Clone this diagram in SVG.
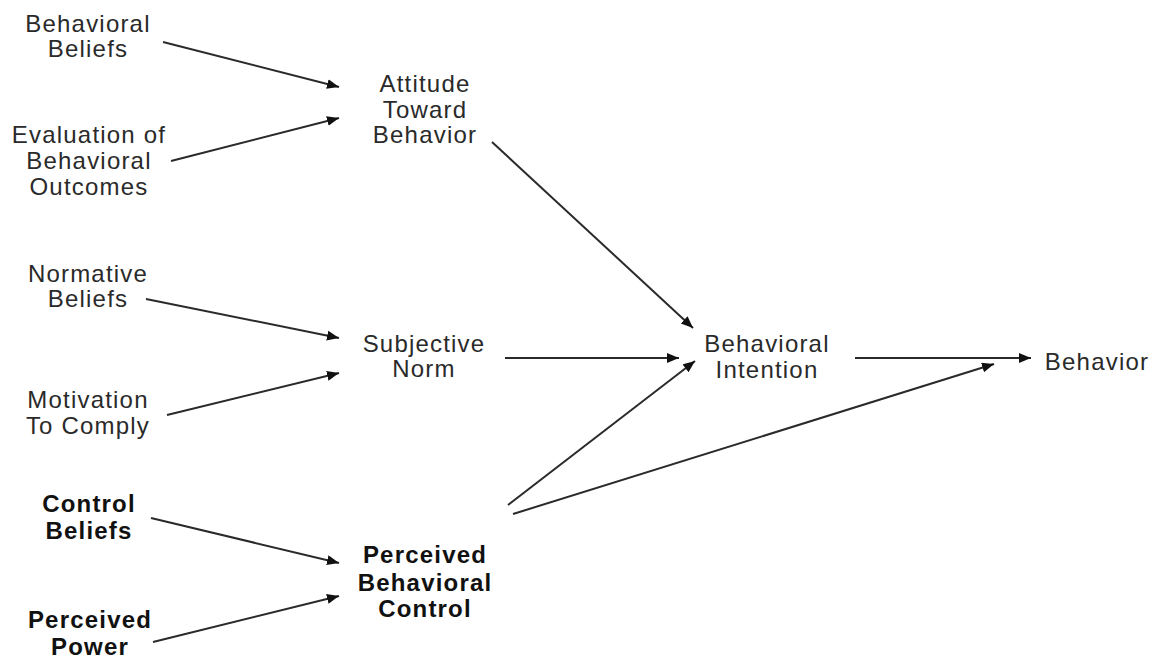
<svg xmlns="http://www.w3.org/2000/svg" width="1153" height="660" viewBox="0 0 1153 660">
<style>
  text { font-family: "Liberation Sans", Arial, sans-serif; font-size: 24px; letter-spacing: 1.2px; fill: #2a2a2a; text-anchor: middle; }
  text.b { font-weight: bold; fill: #111; }
  .c line { stroke: #2a2a2a; stroke-width: 2; marker-end: url(#ah); }
</style>
<defs>
  <marker id="ah" markerUnits="userSpaceOnUse" markerWidth="14" markerHeight="12" refX="12" refY="5" orient="auto">
    <path d="M0,0 L12,5 L0,10 Z" fill="#111"/>
  </marker>
</defs>
<rect width="1153" height="660" fill="#fff"/>
<g id="behavioral-beliefs"><text x="88" y="32">Behavioral</text><text x="88" y="57">Beliefs</text></g>
<g id="evaluation"><text x="89" y="143">Evaluation of</text><text x="89" y="169">Behavioral</text><text x="89" y="195">Outcomes</text></g>
<g id="attitude"><text x="425" y="92">Attitude</text><text x="425" y="118">Toward</text><text x="425" y="143">Behavior</text></g>
<g id="normative-beliefs"><text x="88" y="282">Normative</text><text x="88" y="307">Beliefs</text></g>
<g id="motivation"><text x="88" y="408">Motivation</text><text x="88" y="434">To Comply</text></g>
<g id="subjective-norm"><text x="424" y="352">Subjective</text><text x="424" y="377">Norm</text></g>
<g id="intention"><text x="767" y="352">Behavioral</text><text x="767" y="378">Intention</text></g>
<g id="behavior"><text x="1097" y="370">Behavior</text></g>
<g id="control-beliefs"><text class="b" x="89" y="512">Control</text><text class="b" x="89" y="539">Beliefs</text></g>
<g id="perceived-power"><text class="b" x="90" y="628">Perceived</text><text class="b" x="90" y="655">Power</text></g>
<g id="pbc"><text class="b" x="425" y="563">Perceived</text><text class="b" x="425" y="591">Behavioral</text><text class="b" x="425" y="617">Control</text></g>
<g class="c" id="connectors">
  <line x1="163" y1="42" x2="339" y2="87"/>
  <line x1="171" y1="161" x2="339" y2="118"/>
  <line x1="146" y1="299" x2="339" y2="338"/>
  <line x1="167" y1="415" x2="339" y2="373"/>
  <line x1="151" y1="518" x2="339" y2="563"/>
  <line x1="153" y1="642" x2="339" y2="596"/>
  <line x1="492" y1="142" x2="693" y2="328"/>
  <line x1="505" y1="358" x2="679" y2="358"/>
  <line x1="508" y1="505" x2="695" y2="361"/>
  <line x1="855" y1="358" x2="1031" y2="358"/>
  <line x1="513" y1="514" x2="994" y2="364"/>
</g>
</svg>
